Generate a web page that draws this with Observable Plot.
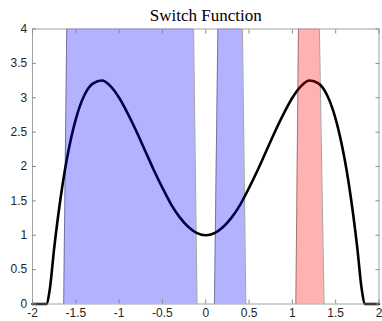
<!DOCTYPE html>
<html><head><meta charset="utf-8">
<script src="https://cdn.jsdelivr.net/npm/d3@7"></script>
<script src="https://cdn.jsdelivr.net/npm/@observablehq/plot@0.6"></script>
<style>body{margin:0;background:#fff}</style>
</head><body><div id="chart"></div>
<script>
const title = "Switch Function";
const xTicks = [-2, -1.5, -1, -0.5, 0, 0.5, 1, 1.5, 2];
const yTicks = [0, 0.5, 1, 1.5, 2, 2.5, 3, 3.5, 4];

const curveX = [-2, -1.9, -1.84, -1.8, -1.75, -1.7, -1.65, -1.6, -1.5, -1.4, -1.3, -1.2, -1.1, -1.0, -0.9, -0.8, -0.7, -0.6, -0.5, -0.4, -0.3, -0.2, -0.1, 0,
                0.1, 0.2, 0.3, 0.4, 0.5, 0.6, 0.7, 0.8, 0.9, 1.0, 1.1, 1.2, 1.3, 1.4, 1.5, 1.6, 1.65, 1.7, 1.75, 1.8, 1.84, 1.9, 2];
const curveY = [0, 0, 0, 0.22, 0.81, 1.32, 1.76, 2.13, 2.69, 3.04, 3.21, 3.25, 3.17, 3.00, 2.77, 2.51, 2.23, 1.95, 1.69, 1.45, 1.26, 1.12, 1.03, 1.00,
                1.03, 1.12, 1.26, 1.45, 1.69, 1.95, 2.23, 2.51, 2.77, 3.00, 3.17, 3.25, 3.21, 3.04, 2.69, 2.13, 1.76, 1.32, 0.81, 0.22, 0, 0, 0];

const regionNames = ["blue1", "blue2", "red"];
const regionColors = ["#0000ff", "#0000ff", "#ff0000"];
const bottomLeft = [-1.64, 0.10, 1.04];
const bottomRight = [-0.10, 0.463, 1.366];
const topLeft = [-1.605, 0.14, 1.07];
const topRight = [-0.14, 0.424, 1.312];
const yBottom = 0;
const yTop = 4;

const curve = curveX.map((x, i) => ({x, y: curveY[i]}));
const areaRows = [];
const edges = [];
regionNames.forEach((r, i) => {
  areaRows.push({region: r, color: regionColors[i], y: yBottom, x1: bottomLeft[i], x2: bottomRight[i]});
  areaRows.push({region: r, color: regionColors[i], y: yTop, x1: topLeft[i], x2: topRight[i]});
  edges.push({x1: bottomLeft[i], y1: yBottom, x2: topLeft[i], y2: yTop});
  edges.push({x1: bottomRight[i], y1: yBottom, x2: topRight[i], y2: yTop});
});

const font = "'Liberation Sans', Arial, Helvetica, sans-serif";
const chart = Plot.plot({
  width: 382,
  height: 321,
  marginLeft: 32,
  marginRight: 3.5,
  marginTop: 28.5,
  marginBottom: 17.5,
  style: {fontFamily: font, fontSize: "12px", color: "#262626", background: "#fff"},
  x: {domain: [-2, 2]},
  y: {domain: [0, 4]},
  marks: [
    Plot.line(curve, {x: "x", y: "y", stroke: "#000", strokeWidth: 2.6, curve: "monotone-x"}),
    Plot.areaX(areaRows, {y: "y", x1: "x1", x2: "x2", z: "region", fill: "color", fillOpacity: 0.3, curve: "linear"}),
    Plot.link(edges, {x1: "x1", y1: "y1", x2: "x2", y2: "y2", stroke: "#000", strokeOpacity: 0.45, strokeWidth: 0.8}),
    Plot.frame({stroke: "#8a8a8a", strokeWidth: 0.8}),
    Plot.axisX({ticks: xTicks, tickSize: -4, tickPadding: 8.5, label: null, stroke: "#8a8a8a", fill: "#262626", tickFormat: d => String(d)}),
    Plot.axisX({ticks: xTicks, anchor: "top", tickSize: -4, label: null, stroke: "#8a8a8a", tickFormat: () => ""}),
    Plot.axisY({ticks: yTicks, tickSize: -4, tickPadding: 9.3, label: null, stroke: "#8a8a8a", fill: "#262626", tickFormat: d => String(d)}),
    Plot.axisY({ticks: yTicks, anchor: "right", tickSize: -4, label: null, stroke: "#8a8a8a", tickFormat: () => ""}),
    Plot.text([title], {frameAnchor: "top", lineAnchor: "middle", dy: -13.3, fontFamily: "'Liberation Serif', 'DejaVu Serif', serif", fontSize: 17, fill: "#000"})
  ]
});
document.getElementById("chart").appendChild(chart);
</script>
</body></html>
